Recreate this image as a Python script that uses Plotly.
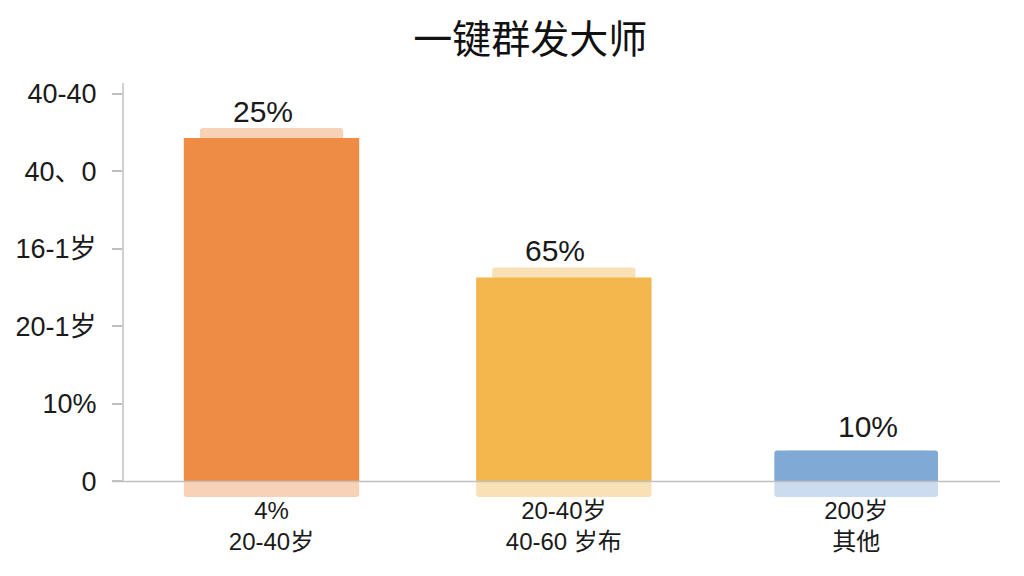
import plotly.graph_objects as go

title = "一键群发大师"
categories = ["c1", "c2", "c3"]
label_line1 = ["4%", "20-40岁", "200岁"]
label_line2 = ["20-40岁", "40-60 岁布", "其他"]
values = [4.43, 2.63, 0.40]
value_text = ["25%", "65%", "10%"]
ytick_vals = [0, 1, 2, 3, 4, 5]
ytick_text = ["0", "10%", "20-1岁", "16-1岁", "40、0", "40-40"]

colors = ["#EE8C45", "#F3B74E", "#80A9D6"]
shadow_colors = ["#F8D2B6", "#FAE0B5", "#CCDCEF"]

FONT = "Liberation Sans, Arial, Noto Sans CJK SC, sans-serif"
TFONT = "Noto Sans CJK SC, sans-serif"
top_extra = [0.13, 0.13, 0.0]
BOTTOM_EXTRA = 0.2

fig = go.Figure()
# lower shadow (below baseline)
fig.add_trace(go.Bar(
    x=categories, y=[BOTTOM_EXTRA] * len(values), base=[-BOTTOM_EXTRA] * len(values),
    width=[0.6, 0.6, 0.56], marker=dict(color=shadow_colors, line=dict(width=0)),
    hoverinfo="skip", showlegend=False,
))
# upper shadow
fig.add_trace(go.Bar(
    x=categories, y=[v + e for v, e in zip(values, top_extra)], base=[0] * len(values),
    width=[0.49, 0.49, 0.49], marker=dict(color=shadow_colors, line=dict(width=0)),
    hoverinfo="skip", showlegend=False,
))
# main bars
fig.add_trace(go.Bar(
    x=categories, y=values, width=[0.6, 0.6, 0.56],
    marker=dict(color=colors, line=dict(width=0)),
    showlegend=False,
))

annotations = []
shifts = [-9, -9, 12]
yshifts = [-2, -1, 5]
for c, v, e, t, s, ys in zip(categories, values, top_extra, value_text, shifts, yshifts):
    annotations.append(dict(
        x=c, y=v + e, xref="x", yref="y", text=t, showarrow=False,
        yanchor="bottom", yshift=ys, xshift=s,
        font=dict(family=FONT, size=30, color="#1a1a1a"),
    ))

ticktext = [a + "<br>" + b for a, b in zip(label_line1, label_line2)]

fig.update_layout(
    width=1016, height=568,
    margin=dict(l=115, r=24, t=75, b=79),
    paper_bgcolor="white", plot_bgcolor="white",
    barmode="overlay", barcornerradius=3,
    title=dict(text=title, x=0.514, xanchor="center", y=0.944, yanchor="middle",
               font=dict(family=TFONT, size=39, color="#111")),
    xaxis=dict(type="category", categoryarray=categories, tickvals=categories,
               ticktext=ticktext, showline=False, showgrid=False, ticks="",
               tickfont=dict(family=FONT, size=24, color="#1a1a1a"),
               range=[-0.508, 2.492], ticklabelstandoff=-3, automargin=False),
    yaxis=dict(range=[-0.2, 5.14], tickvals=ytick_vals, ticktext=ytick_text,
               showgrid=False, zeroline=False, showline=False,
               ticks="outside", ticklen=10, tickcolor="#c0c0c0", tickwidth=1.5,
               tickfont=dict(family=FONT, size=27, color="#1a1a1a"),
               ticklabelstandoff=10, automargin=False),
    annotations=annotations,
    shapes=[
        dict(type="line", xref="paper", yref="y", x0=0, x1=0, y0=0, y1=5.14,
             line=dict(color="#c0c0c0", width=1.5), layer="above"),
        dict(type="line", xref="paper", yref="y", x0=-0.012, x1=1, y0=0, y1=0,
             line=dict(color="#c0c0c0", width=1.5), layer="above"),
    ],
)

fig.write_html("out.html")
